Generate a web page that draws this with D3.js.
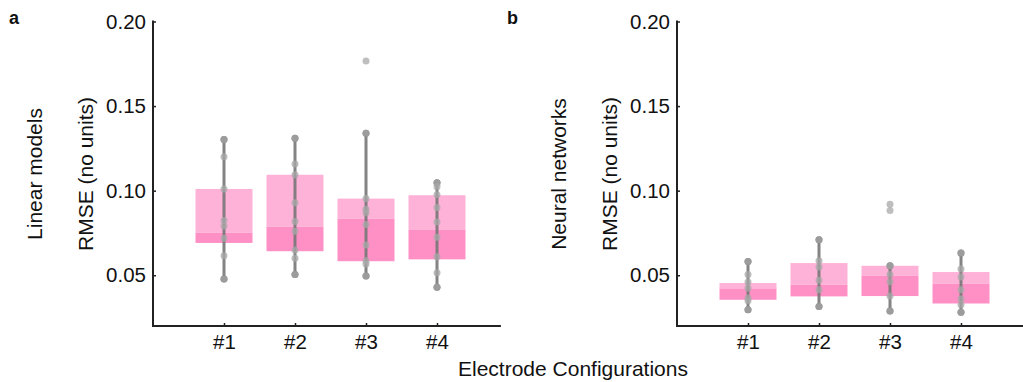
<!DOCTYPE html>
<html>
<head>
<meta charset="utf-8">
<script src="https://cdn.jsdelivr.net/npm/d3@7"></script>
<style>
  body { margin: 0; background: #fff; }
  svg text { font-family: "Liberation Sans", Arial, sans-serif; fill: #111; }
</style>
</head>
<body>
<svg id="chart" width="1023" height="382"></svg>
<script>
// DATA
const configs = ["#1", "#2", "#3", "#4"]
const yTicks = [0.05, 0.10, 0.15, 0.20]

// linear models: [whiskerLow, q1, median, q3, whiskerHigh]
const linearStats = [
  [0.0478, 0.0691, 0.0752, 0.1010, 0.1303],
  [0.0504, 0.0642, 0.0787, 0.1094, 0.1310],
  [0.0496, 0.0583, 0.0834, 0.0953, 0.1339],
  [0.0429, 0.0594, 0.0768, 0.0973, 0.1047]
]
const linearPoints = [
  [0.1303, 0.120, 0.101, 0.0823, 0.0791, 0.0719, 0.0616, 0.0478],
  [0.131, 0.1157, 0.1094, 0.0929, 0.0817, 0.076, 0.065, 0.060, 0.0504],
  [0.1766, 0.1339, 0.0953, 0.089, 0.087, 0.080, 0.0679, 0.0586, 0.0567, 0.0496],
  [0.1047, 0.1023, 0.0976, 0.0901, 0.0815, 0.0724, 0.061, 0.0515, 0.0429]
]

// neural networks
const neuralStats = [
  [0.0296, 0.0355, 0.0422, 0.0454, 0.0582],
  [0.0316, 0.0375, 0.0444, 0.0572, 0.0710],
  [0.0288, 0.0377, 0.0497, 0.0556, 0.0556],
  [0.0281, 0.0333, 0.0450, 0.0519, 0.0631]
]
const neuralPoints = [
  [0.0582, 0.0505, 0.046, 0.0425, 0.0365, 0.035, 0.0296],
  [0.071, 0.0586, 0.0549, 0.047, 0.0414, 0.0316],
  [0.092, 0.0883, 0.0556, 0.0505, 0.0462, 0.0377, 0.0288],
  [0.0631, 0.0537, 0.049, 0.0414, 0.036, 0.0325, 0.0281]
]

// LAYOUT
const PLOT_TOP = 21.5
const PLOT_BOTTOM = 326
const STEP = 71
const BOX_WIDTH = 57
const TICK_FONT = 20.5
const LABEL_FONT = 21
const LIGHT_PINK = "#ffb2d8"
const DARK_PINK = "#ff90c6"
const WHISKER_COLOR = "#777777"
const POINT_COLOR = "#a8a8a8"

const svg = d3.select("#chart")

function drawPanel(originX, letter, letterX, rowLabel, stats, points) {
  const x = d3.scaleLinear().domain([0, 4.9]).range([originX, originX + 4.9 * STEP])
  const y = d3.scaleLinear().domain([0.02, 0.20]).range([PLOT_BOTTOM, PLOT_TOP])
  const g = svg.append("g")

  configs.forEach((c, i) => {
    const s = stats[i]
    const cx = x(i + 1)
    // upper half of box (median to q3)
    g.append("rect")
      .attr("x", cx - BOX_WIDTH / 2).attr("width", BOX_WIDTH)
      .attr("y", y(s[3])).attr("height", y(s[2]) - y(s[3]))
      .attr("fill", LIGHT_PINK)
    // lower half (q1 to median)
    g.append("rect")
      .attr("x", cx - BOX_WIDTH / 2).attr("width", BOX_WIDTH)
      .attr("y", y(s[2])).attr("height", y(s[1]) - y(s[2]))
      .attr("fill", DARK_PINK)
    // whisker
    g.append("line")
      .attr("x1", cx).attr("x2", cx)
      .attr("y1", y(s[0])).attr("y2", y(s[4]))
      .attr("stroke", WHISKER_COLOR).attr("stroke-width", 3).attr("opacity", 0.9)
    ;[s[0], s[4]].forEach(v => {
      g.append("circle").attr("cx", cx).attr("cy", y(v)).attr("r", 3.5)
        .attr("fill", WHISKER_COLOR)
    })
    // individual points
    g.selectAll(null).data(points[i]).join("circle")
      .attr("cx", cx).attr("cy", d => y(d)).attr("r", 3.5)
      .attr("fill", POINT_COLOR).attr("opacity", 0.75)
  })

  // y axis
  const yAxis = d3.axisLeft(y).tickValues(yTicks).tickFormat(d3.format(".2f"))
    .tickSizeInner(-3).tickSizeOuter(0).tickPadding(7)
  const ya = g.append("g").attr("transform", `translate(${originX},0)`).call(yAxis)
  ya.select(".domain").remove()
  ya.append("line").attr("x1", 0).attr("x2", 0).attr("y1", PLOT_TOP - 1).attr("y2", PLOT_BOTTOM + 1)
    .attr("stroke", "#222").attr("stroke-width", 2)
  ya.selectAll(".tick line").attr("stroke", "#222").attr("stroke-width", 1.5)
  ya.selectAll(".tick text").attr("font-size", TICK_FONT).attr("fill", "#111")
    .style("font-family", "'Liberation Sans', Arial, sans-serif")

  // x axis
  const xAxis = d3.axisBottom(x).tickValues([1, 2, 3, 4]).tickFormat(d => configs[d - 1])
    .tickSizeInner(-3).tickSizeOuter(0).tickPadding(8)
  const xa = g.append("g").attr("transform", `translate(0,${PLOT_BOTTOM})`).call(xAxis)
  xa.select(".domain").remove()
  xa.append("line").attr("x1", originX - 1).attr("x2", x(4.9)).attr("y1", 0).attr("y2", 0)
    .attr("stroke", "#222").attr("stroke-width", 2)
  xa.selectAll(".tick line").attr("stroke", "#222").attr("stroke-width", 1.5)
  xa.selectAll(".tick text").attr("font-size", TICK_FONT).attr("fill", "#111")
    .style("font-family", "'Liberation Sans', Arial, sans-serif")

  // labels
  const midY = 174
  g.append("text").attr("transform", `translate(${originX - 60},${midY}) rotate(-90)`)
    .attr("text-anchor", "middle").attr("font-size", LABEL_FONT).text("RMSE (no units)")
  g.append("text").attr("transform", `translate(${originX - 111},${midY}) rotate(-90)`)
    .attr("text-anchor", "middle").attr("font-size", LABEL_FONT).text(rowLabel)
  g.append("text").attr("x", letterX).attr("y", 24)
    .attr("font-size", 18).attr("font-weight", "bold").text(letter)
}

drawPanel(153, "a", 9, "Linear models", linearStats, linearPoints)
drawPanel(677, "b", 507, "Neural networks", neuralStats, neuralPoints)

svg.append("text").attr("x", 573).attr("y", 376).attr("text-anchor", "middle")
  .attr("font-size", LABEL_FONT).text("Electrode Configurations")
</script>
</body>
</html>
